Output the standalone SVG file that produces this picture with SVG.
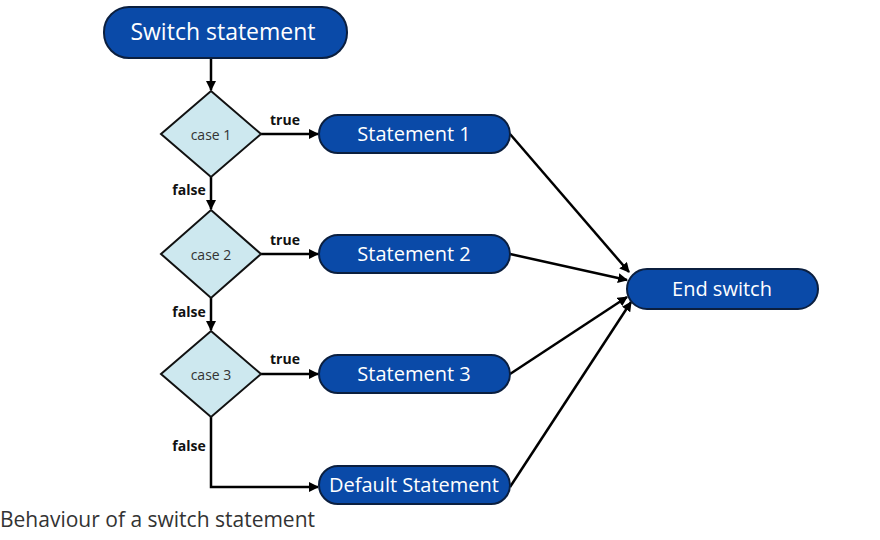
<svg xmlns="http://www.w3.org/2000/svg" width="880" height="540" viewBox="0 0 880 540">
<defs>
<marker id="ah" markerWidth="10" markerHeight="10" refX="9" refY="5" orient="auto" markerUnits="userSpaceOnUse"><path d="M0,0 L10,5 L0,10 z" fill="#000"/></marker>
<style>
.n{fill:#0a4aa8;stroke:#0b1f3f;stroke-width:2}
.d{fill:#cde8ef;stroke:#111;stroke-width:2}
.t{fill:#fff;font-family:"Open Sans","Liberation Sans",sans-serif;font-size:20px;text-anchor:middle;dominant-baseline:central}
.c{fill:#333;font-family:"Open Sans","Liberation Sans",sans-serif;font-size:14px;text-anchor:middle;dominant-baseline:central}
.l{fill:#111;font-family:"Open Sans","Liberation Sans",sans-serif;font-size:14px;font-weight:bold;text-anchor:middle}
.e{stroke:#000;stroke-width:2.5;fill:none;marker-end:url(#ah)}
</style>
</defs>
<rect width="880" height="540" fill="#fff"/>
<g id="connectors">
<path class="e" d="M211,58 V90"/>
<path class="e" d="M211,177 V209"/>
<path class="e" d="M211,298 V330"/>
<path class="e" d="M211,417 V487 H318"/>
<path class="e" d="M261,134 H318"/>
<path class="e" d="M261,254 H318"/>
<path class="e" d="M261,374 H318"/>
<path class="e" d="M510,134 L629,272"/>
<path class="e" d="M510,254 L627,280"/>
<path class="e" d="M510,374 L627,297"/>
<path class="e" d="M510,487 L631,302"/>
<text class="l" x="285" y="125">true</text>
<text class="l" x="285" y="245">true</text>
<text class="l" x="285" y="364">true</text>
<text class="l" x="189" y="195">false</text>
<text class="l" x="189" y="317">false</text>
<text class="l" x="189" y="451">false</text>
</g>
<g id="switch"><rect class="n" x="104" y="7" width="243" height="51" rx="25"/><text class="t" x="223" y="31" style="font-size:23px">Switch statement</text></g>
<g id="case1"><polygon class="d" points="211,91 261,134 211,177 161,134"/><text class="c" x="211" y="134">case 1</text></g>
<g id="case2"><polygon class="d" points="211,210 261,254 211,298 161,254"/><text class="c" x="211" y="254">case 2</text></g>
<g id="case3"><polygon class="d" points="211,331 261,374 211,417 161,374"/><text class="c" x="211" y="374">case 3</text></g>
<g id="s1"><rect class="n" x="319" y="115" width="191" height="38" rx="19"/><text class="t" x="414" y="133">Statement 1</text></g>
<g id="s2"><rect class="n" x="319" y="235" width="191" height="38" rx="19"/><text class="t" x="414" y="253">Statement 2</text></g>
<g id="s3"><rect class="n" x="319" y="355" width="191" height="38" rx="19"/><text class="t" x="414" y="373">Statement 3</text></g>
<g id="sd"><rect class="n" x="319" y="466" width="191" height="38" rx="19"/><text class="t" x="414" y="484">Default Statement</text></g>
<g id="end"><rect class="n" x="627" y="269" width="191" height="40" rx="20"/><text class="t" x="722" y="288">End switch</text></g>
<text x="0" y="527" style="font-family:'Open Sans','Liberation Sans',sans-serif;font-size:21px;fill:#333">Behaviour of a switch statement</text>
</svg>
